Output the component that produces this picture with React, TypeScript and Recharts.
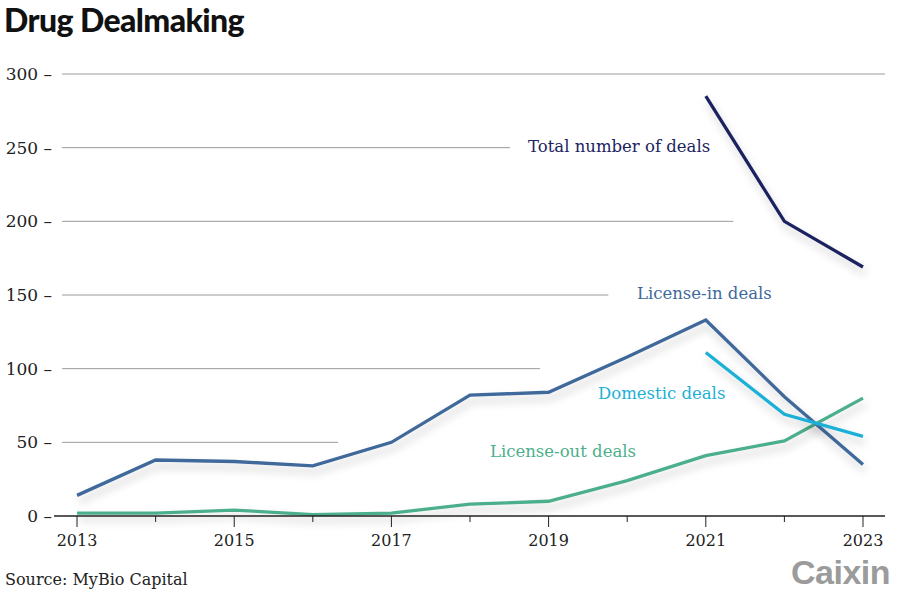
import React from 'react'
import { LineChart, Line, XAxis, YAxis, ReferenceLine } from 'recharts'

const YEARS = [2013, 2014, 2015, 2016, 2017, 2018, 2019, 2020, 2021, 2022, 2023]
const LICENSE_IN = [14, 38, 37, 34, 50, 82, 84, 108, 133, 81, 35]
const LICENSE_OUT = [2, 2, 4, 1, 2, 8, 10, 24, 41, 51, 80]
const DOMESTIC = [null, null, null, null, null, null, null, null, 111, 69, 54]
const TOTAL = [null, null, null, null, null, null, null, null, 285, 200, 169]

const Y_TICKS = [0, 50, 100, 150, 200, 250, 300]
// where each gridline stops (in years) so it clears the series labels
const GRID_END = [2023.28, 2016.32, 2018.89, 2019.76, 2021.35, 2018.51, 2023.28]

const NAVY = '#1c2360'
const BLUE = '#40699b'
const CYAN = '#1eb0d6'
const GREEN = '#4caf8b'
const SERIF = '"DejaVu Serif", serif'

const data = YEARS.map((year, i) => ({
  year,
  licenseIn: LICENSE_IN[i],
  licenseOut: LICENSE_OUT[i],
  domestic: DOMESTIC[i],
  total: TOTAL[i],
}))

function YTick({ y, payload }: any) {
  return (
    <text x={52} y={y} dy={6} textAnchor="end" fontFamily={SERIF} fontSize={17} fill="#222">
      {payload.value} –
    </text>
  )
}

function XTick({ x, y, payload }: any) {
  const major = payload.value % 2 === 1
  return (
    <g>
      <line x1={x} x2={x} y1={y - 8} y2={y - 8 + (major ? 11 : 6)} stroke="#222" strokeWidth={1} />
      {major && (
        <text x={x} y={y + 22} textAnchor="middle" fontFamily={SERIF} fontSize={16} fill="#222">
          {payload.value}
        </text>
      )}
    </g>
  )
}

const label = (color: string, left: number, top: number) => ({
  position: 'absolute' as const,
  left,
  top,
  color,
  fontFamily: SERIF,
  fontSize: 16.5,
  whiteSpace: 'nowrap' as const,
})

export default function App() {
  const lineProps = {
    type: 'linear' as const,
    strokeWidth: 3.3,
    dot: false,
    activeDot: false,
    isAnimationActive: false,
    connectNulls: false,
    filter: 'url(#shadow)',
  }
  return (
    <div style={{ position: 'absolute', left: 0, top: 0, width: 900, height: 599, background: '#fff', overflow: 'hidden' }}>
      <div style={{ position: 'absolute', left: 4, top: 0, fontFamily: 'Lato, sans-serif', fontWeight: 900, fontSize: 32, color: '#111', letterSpacing: -0.6 }}>
        Drug Dealmaking
      </div>
      <LineChart width={900} height={599} data={data} margin={{ top: 74, right: 15, bottom: 53, left: 0 }}>
        <defs>
          <filter id="shadow" x="-10%" y="-10%" width="120%" height="140%">
            <feDropShadow dx="2" dy="6" stdDeviation="4" floodColor="#000" floodOpacity="0.2" />
          </filter>
        </defs>
        <XAxis
          dataKey="year"
          type="number"
          domain={[2012.707, 2023.28]}
          ticks={YEARS}
          tick={<XTick />}
          tickLine={false}
          axisLine={{ stroke: '#222', strokeWidth: 1.5 }}
          interval={0}
          height={30}
          allowDataOverflow
        />
        <YAxis
          width={54}
          domain={[0, 300]}
          ticks={Y_TICKS}
          tick={<YTick />}
          axisLine={false}
          tickLine={false}
          interval={0}
        />
        {Y_TICKS.slice(1).map((v, i) => (
          <ReferenceLine
            key={v}
            segment={[{ x: 2012.81, y: v }, { x: GRID_END[i + 1], y: v }]}
            stroke="#9a9a9a"
            strokeWidth={1}
          />
        ))}
        <Line dataKey="licenseOut" stroke={GREEN} {...lineProps} />
        <Line dataKey="licenseIn" stroke={BLUE} {...lineProps} />
        <Line dataKey="domestic" stroke={CYAN} {...lineProps} />
        <Line dataKey="total" stroke={NAVY} {...lineProps} />
      </LineChart>
      <div style={label(NAVY, 528, 137)}>Total number of deals</div>
      <div style={label(BLUE, 637, 284)}>License-in deals</div>
      <div style={label(CYAN, 598, 384)}>Domestic deals</div>
      <div style={label(GREEN, 490, 442)}>License-out deals</div>
      <div style={{ position: 'absolute', left: 5, top: 570, fontFamily: SERIF, fontSize: 16, color: '#222' }}>
        Source: MyBio Capital
      </div>
      <div style={{ position: 'absolute', left: 791, top: 553, fontFamily: '"Liberation Sans", Arial, sans-serif', fontWeight: 700, fontSize: 34, color: '#9b9b9b', letterSpacing: -0.5 }}>
        Caixin
      </div>
    </div>
  )
}
